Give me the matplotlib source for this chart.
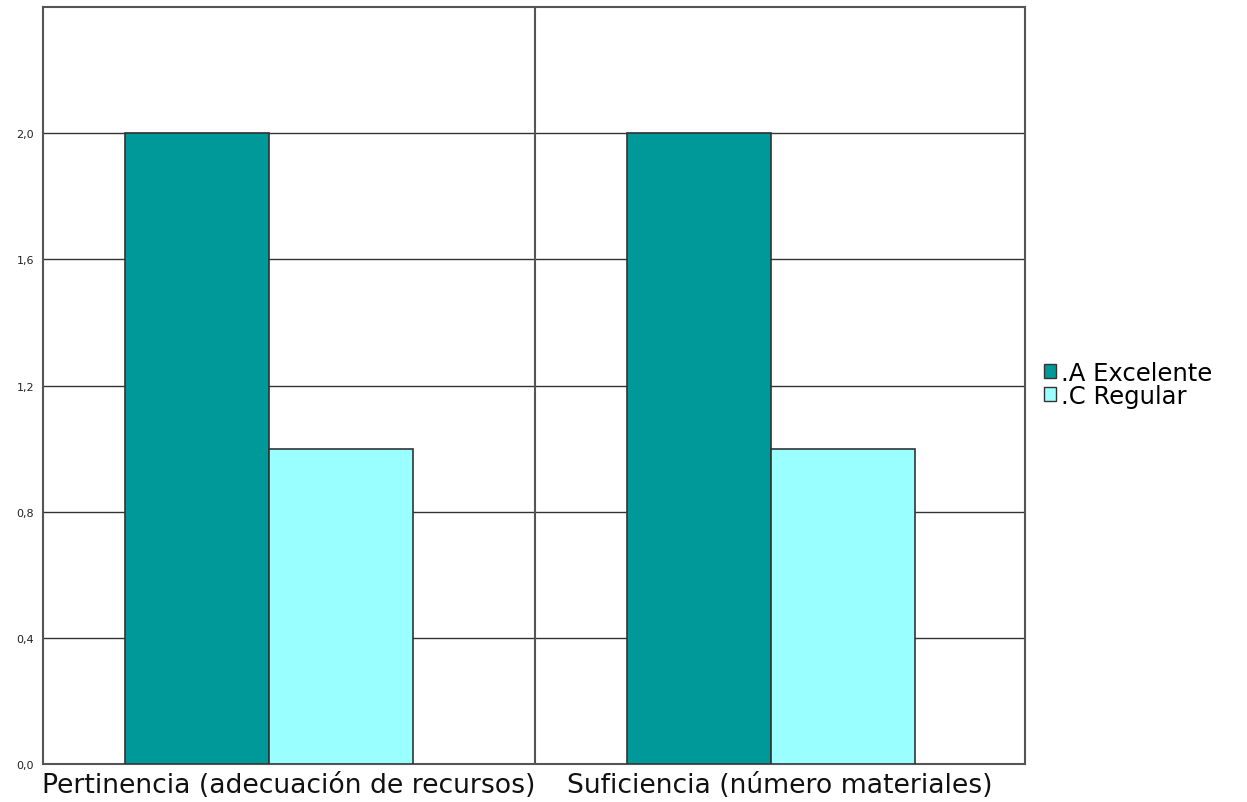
import matplotlib
matplotlib.use("Agg")
import matplotlib.pyplot as plt
from matplotlib.patches import Patch
import numpy as np

categories = ["Pertinencia (adecuación de recursos)", "Suficiencia (número materiales)"]
series_names = [".A Excelente", ".C Regular"]
excelente = [2.0, 2.0]
regular = [1.0, 1.0]
yticks = [0.0, 0.4, 0.8, 1.2, 1.6, 2.0]
ytick_labels = ["0,0", "0,4", "0,8", "1,2", "1,6", "2,0"]

colors = ["#009999", "#99FFFF"]
plt.rcParams['font.family'] = ['DejaVu Sans']

fig = plt.figure(figsize=(12.47, 8.03), dpi=100)
ax = fig.add_axes([43/1247, 1-765/803, (1025-43)/1247, (765-8)/803])

width = 0.2935
group_shift = np.array([-0.040, -0.017])
x = np.arange(len(categories)) + 0.5 + group_shift
for i, (vals, c) in enumerate(zip([excelente, regular], colors)):
    ax.bar(x + (i - 0.5) * width, vals, width, color=c, edgecolor="#333333",
           linewidth=1.2, zorder=3, label=series_names[i])

ax.set_xlim(0, 2)
ax.set_ylim(0, 2.4)
ax.set_yticks(yticks)
ax.set_yticklabels(ytick_labels, fontsize=8, color="#222222")
for y in yticks[1:]:
    ax.axhline(y, color="#333333", linewidth=1, zorder=1)
ax.axvline(1.0 + 0.003, color="#555555", linewidth=1.5, zorder=1)
ax.set_xticks(np.arange(len(categories)) + 0.5)
ax.set_xticklabels(categories, fontsize=19.2, color="#111111")
ax.tick_params(axis='y', length=0, pad=6.5)
ax.tick_params(axis='x', length=0, pad=5.5)
for s in ax.spines.values():
    s.set_color("#555555")
    s.set_linewidth(1.5)

handles = [Patch(facecolor=c, edgecolor="#333333", label=n) for c, n in zip(colors, series_names)]
fig.legend(handles=handles, loc="upper left", bbox_to_anchor=(1044/1247, 1-362/803),
           frameon=False, fontsize=17.5, handlelength=0.5, handleheight=0.5,
           handletextpad=0.2, labelspacing=-0.05, borderaxespad=0, borderpad=0)

fig.savefig("out.png", dpi=100)
